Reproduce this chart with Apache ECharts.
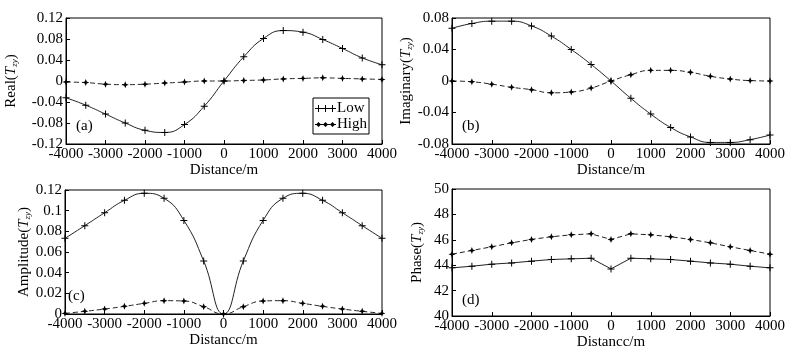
<!DOCTYPE html>
<html>
<head>
<meta charset="utf-8">
<script src="https://cdn.jsdelivr.net/npm/echarts@6/dist/echarts.min.js"></script>
<style>
  html, body { margin: 0; padding: 0; background: #fff; }
  #chart { width: 800px; height: 356px; }
</style>
</head>
<body>
<div id="chart"></div>
<script>
// distance along the profile, m
var dist = [-4000, -3500, -3000, -2500, -2000, -1500, -1000, -500, 0, 500, 1000, 1500, 2000, 2500, 3000, 3500, 4000];

var realLow = [-0.032, -0.046, -0.063, -0.080, -0.094, -0.098, -0.083, -0.048, 0, 0.046, 0.081, 0.096, 0.093, 0.079, 0.062, 0.044, 0.031];
var realHigh = [-0.002, -0.003, -0.006, -0.007, -0.006, -0.004, -0.002, 0, 0, 0.001, 0.002, 0.004, 0.005, 0.006, 0.005, 0.004, 0.003];

var imagLow = [0.067, 0.073, 0.076, 0.076, 0.070, 0.057, 0.040, 0.021, 0, -0.022, -0.042, -0.059, -0.071, -0.078, -0.078, -0.0745, -0.0686];
var imagHigh = [0, -0.001, -0.004, -0.008, -0.011, -0.015, -0.014, -0.009, 0, 0.008, 0.0135, 0.0135, 0.011, 0.006, 0.0025, 0.0005, 0];

var ampLow = [0.0732, 0.0855, 0.098, 0.110, 0.1168, 0.112, 0.0906, 0.0513, 0, 0.0513, 0.0906, 0.112, 0.1168, 0.110, 0.098, 0.0855, 0.0732];
var ampHigh = [0.0006, 0.0026, 0.0048, 0.0074, 0.0103, 0.0129, 0.0126, 0.0071, 0, 0.0071, 0.0126, 0.0129, 0.0103, 0.0074, 0.0048, 0.0026, 0.0006];

var phaseLow = [43.79, 43.92, 44.08, 44.18, 44.32, 44.45, 44.50, 44.55, 43.71, 44.55, 44.50, 44.45, 44.32, 44.18, 44.08, 43.92, 43.79];
var phaseHigh = [44.87, 45.16, 45.45, 45.76, 46.03, 46.24, 46.39, 46.47, 46.03, 46.47, 46.39, 46.24, 46.03, 45.76, 45.45, 45.16, 44.87];

var font = '"Liberation Serif", "DejaVu Serif", serif';
var plusSym = 'path://M3,0h1v3h3v1h-3v3h-1v-3h-3v-1h3z';
var starSym = 'path://M0,-5L1.4,-1.4L5,0L1.4,1.4L0,5L-1.4,1.4L-5,0L-1.4,-1.4Z';
var lowIcon = 'path://M3,0h1v3h3v1h-3v3h-1v-3h-3v-1h3z M10,0h1v3h3v1h-3v3h-1v-3h-3v-1h3z M17,0h1v3h3v1h-3v3h-1v-3h-3v-1h3z';
var highIcon = 'path://M3.5,1L6,3.5L3.5,6L1,3.5z M10.5,1L13,3.5L10.5,6L8,3.5z M17.5,1L20,3.5L17.5,6L15,3.5z M0,3h21v1h-21z';

function pairs(arr) {
  return dist.map(function (d, i) { return [d, arr[i]]; });
}

function yName(label) {
  return '{n|' + label + '(}{t|T}{s|zy}{n|)}';
}

var nameRich = {
  n: { fontFamily: font, fontSize: 15, color: '#000' },
  t: { fontFamily: font, fontSize: 15, fontStyle: 'italic', color: '#000' },
  s: { fontFamily: font, fontSize: 9, fontStyle: 'italic', color: '#000', padding: [7, 0, 0, 0] }
};

var grids = [
  { left: 66, top: 18, width: 316, height: 126 },
  { left: 452, top: 18, width: 318, height: 126 },
  { left: 65, top: 190, width: 317, height: 124 },
  { left: 452, top: 189, width: 318, height: 127 }
];

var xNames = ['Distance/m', 'Distance/m', 'Distancc/m', 'Distancc/m'];
var yNames = ['Real', 'Imaginary', 'Amplitude', 'Phase'];
var yRange = [[-0.12, 0.12, 0.04], [-0.08, 0.08, 0.04], [0, 0.12, 0.02], [40, 50, 2]];
var yGap = [47, 37, 32, 27];

var xAxes = [], yAxes = [];
for (var k = 0; k < 4; k++) {
  xAxes.push({
    gridIndex: k, type: 'value', min: -4000, max: 4000, interval: 1000,
    name: xNames[k], nameLocation: 'middle', nameGap: 19,
    nameTextStyle: { fontFamily: font, fontSize: 15, color: '#000' },
    axisLine: { onZero: false, lineStyle: { color: '#000', width: 1 } },
    axisTick: { inside: true, length: 4, lineStyle: { color: '#000' } },
    axisLabel: {
      fontFamily: font, fontSize: 15, color: '#000', margin: 3,
      formatter: function (v) { return String(v); }
    },
    splitLine: { show: false }
  });
  yAxes.push({
    gridIndex: k, type: 'value', min: yRange[k][0], max: yRange[k][1], interval: yRange[k][2],
    name: yName(yNames[k]), nameLocation: 'middle', nameGap: yGap[k], nameRotate: 90,
    nameTextStyle: { rich: nameRich },
    axisLine: { onZero: false, lineStyle: { color: '#000', width: 1 } },
    axisTick: { inside: true, length: 4, lineStyle: { color: '#000' } },
    axisLabel: {
      fontFamily: font, fontSize: 15, color: '#000', margin: 3,
      formatter: function (v) { return String(+v.toFixed(2)); }
    },
    splitLine: { show: false }
  });
}

function lowSeries(k, arr, smooth) {
  return {
    name: 'Low', type: 'line', xAxisIndex: k, yAxisIndex: k, data: pairs(arr),
    smooth: smooth, symbol: plusSym, symbolSize: 7,
    itemStyle: { color: '#000' },
    lineStyle: { color: '#222', width: 1 }
  };
}
function highSeries(k, arr, smooth) {
  return {
    name: 'High', type: 'line', xAxisIndex: k, yAxisIndex: k, data: pairs(arr),
    smooth: smooth, symbol: starSym, symbolSize: 7,
    itemStyle: { color: '#000' },
    lineStyle: { color: '#222', width: 1, type: [5, 3] }
  };
}

var chart = echarts.init(document.getElementById('chart'));
chart.setOption({
  backgroundColor: '#fff',
  animation: false,
  grid: grids.map(function (g) {
    return Object.assign({ show: true, borderColor: '#000', borderWidth: 1, backgroundColor: 'transparent' }, g);
  }),
  xAxis: xAxes,
  yAxis: yAxes,
  legend: {
    orient: 'vertical', left: 313, top: 98,
    padding: [3, 2, 2, 2], itemGap: 1, itemWidth: 21, itemHeight: 7,
    borderColor: '#000', borderWidth: 1, backgroundColor: '#fff',
    textStyle: { fontFamily: font, fontSize: 15, color: '#000', padding: [0, 0, 0, -4] },
    data: [{ name: 'Low', icon: lowIcon }, { name: 'High', icon: highIcon }]
  },
  graphic: [
    { type: 'text', left: 76, top: 119, style: { text: '(a)', font: '15px ' + font, fill: '#000' } },
    { type: 'text', left: 462, top: 119, style: { text: '(b)', font: '15px ' + font, fill: '#000' } },
    { type: 'text', left: 68, top: 289, style: { text: '(c)', font: '15px ' + font, fill: '#000' } },
    { type: 'text', left: 462, top: 293, style: { text: '(d)', font: '15px ' + font, fill: '#000' } }
  ],
  series: [
    lowSeries(0, realLow, true), highSeries(0, realHigh, true),
    lowSeries(1, imagLow, true), highSeries(1, imagHigh, true),
    lowSeries(2, ampLow, true), highSeries(2, ampHigh, true),
    lowSeries(3, phaseLow, false), highSeries(3, phaseHigh, false)
  ]
});
</script>
</body>
</html>
